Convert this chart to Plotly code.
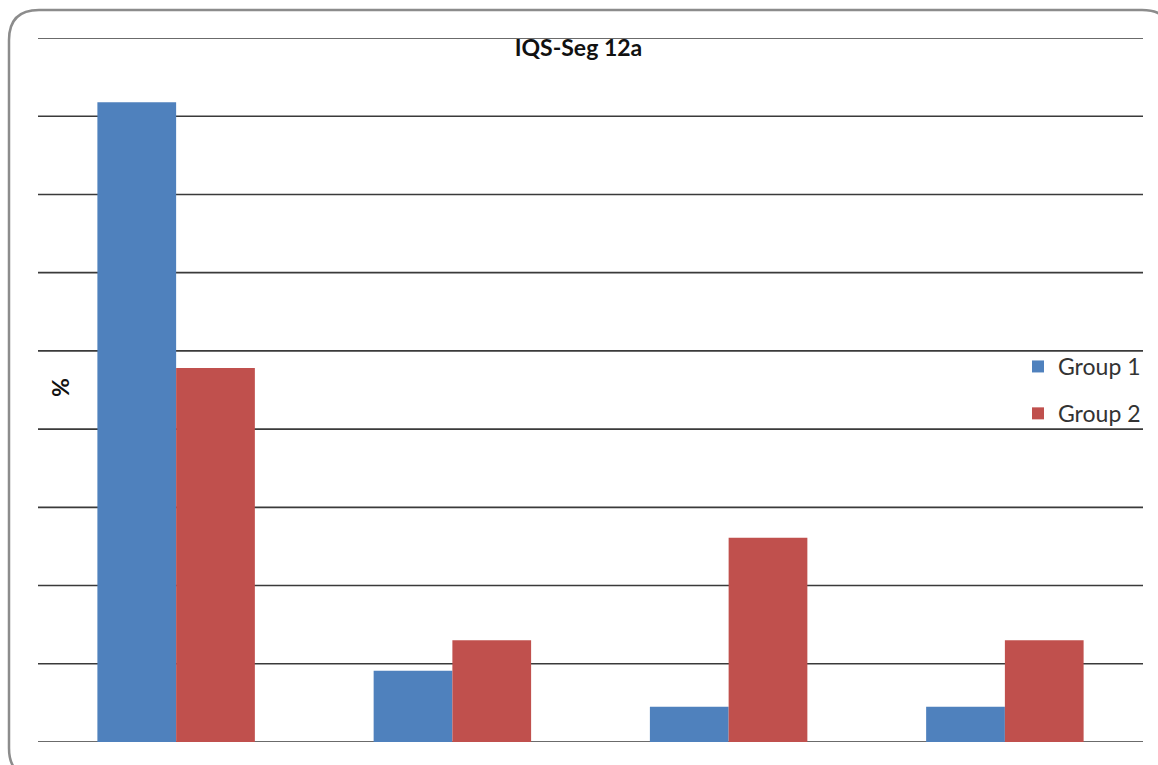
import plotly.graph_objects as go

# Chart data
categories = ["A", "B", "C", "D"]
group1 = [81.8, 9.1, 4.5, 4.5]
group2 = [47.8, 13.0, 26.1, 13.0]
series_names = ["Group 1", "Group 2"]
colors = ["#4F81BD", "#C0504D"]
y_ticks = [0, 10, 20, 30, 40, 50, 60, 70, 80, 90]

W, H = 1158, 765
L, R, T, B = 38, 15, 38, 23
pw, ph = W - L - R, H - T - B

def px(x):
    return (x - L) / pw

def py(y):
    return (H - B - y) / ph

fig = go.Figure()
for i, (name, vals) in enumerate(zip(series_names, [group1, group2])):
    fig.add_trace(go.Bar(
        x=categories, y=vals, name=name,
        marker=dict(color=colors[i], line=dict(width=0)),
        legendgroup=name,
    ))

# horizontal grid lines, including the top and bottom edges
grid_shapes = [dict(type="line", xref="paper", yref="y", x0=0, x1=1, y0=v, y1=v,
                    line=dict(color="#3a3a3a", width=1.6), layer="below")
               for v in y_ticks]

# rounded outer frame
x0, y0, x1, y1, r = 9, 10, 1172, 778, 30
path = (
    f"M {px(x0 + r)} {py(y0)} L {px(x1 - r)} {py(y0)} "
    f"Q {px(x1)} {py(y0)} {px(x1)} {py(y0 + r)} "
    f"L {px(x1)} {py(y1 - r)} Q {px(x1)} {py(y1)} {px(x1 - r)} {py(y1)} "
    f"L {px(x0 + r)} {py(y1)} Q {px(x0)} {py(y1)} {px(x0)} {py(y1 - r)} "
    f"L {px(x0)} {py(y0 + r)} Q {px(x0)} {py(y0)} {px(x0 + r)} {py(y0)} Z"
)
frame = dict(type="path", path=path, xref="paper", yref="paper",
             line=dict(color="#8c8c8c", width=2.5), layer="above")

fig.update_layout(
    width=W, height=H,
    margin=dict(l=L, r=R, t=T, b=B),
    paper_bgcolor="white", plot_bgcolor="white",
    font=dict(family="Lato, Open Sans, sans-serif", color="#222"),
    barmode="group", bargap=0.43, bargroupgap=0,
    title=dict(text="<b>IQS-Seg 12a</b>", x=px(590), xanchor="center",
               y=1 - 48 / H, yanchor="middle", font=dict(size=23, color="#111")),
    xaxis=dict(showticklabels=False, showgrid=False, zeroline=False,
               showline=False, ticks=""),
    yaxis=dict(range=[0, 90], showticklabels=False, showgrid=False,
               zeroline=False, showline=False, ticks=""),
    annotations=[dict(text="<b>%</b>", xref="paper", yref="paper",
                      x=px(60), y=py(388), xanchor="center", yanchor="middle",
                      showarrow=False, textangle=-90,
                      font=dict(size=23, color="#111"))],
    legend=dict(x=px(1018), y=py(345), xanchor="left", yanchor="top",
                font=dict(size=23, color="#333"), traceorder="grouped",
                tracegroupgap=14, bgcolor="rgba(0,0,0,0)",
                itemwidth=30),
    shapes=grid_shapes + [frame],
)

fig.write_html("out.html")
